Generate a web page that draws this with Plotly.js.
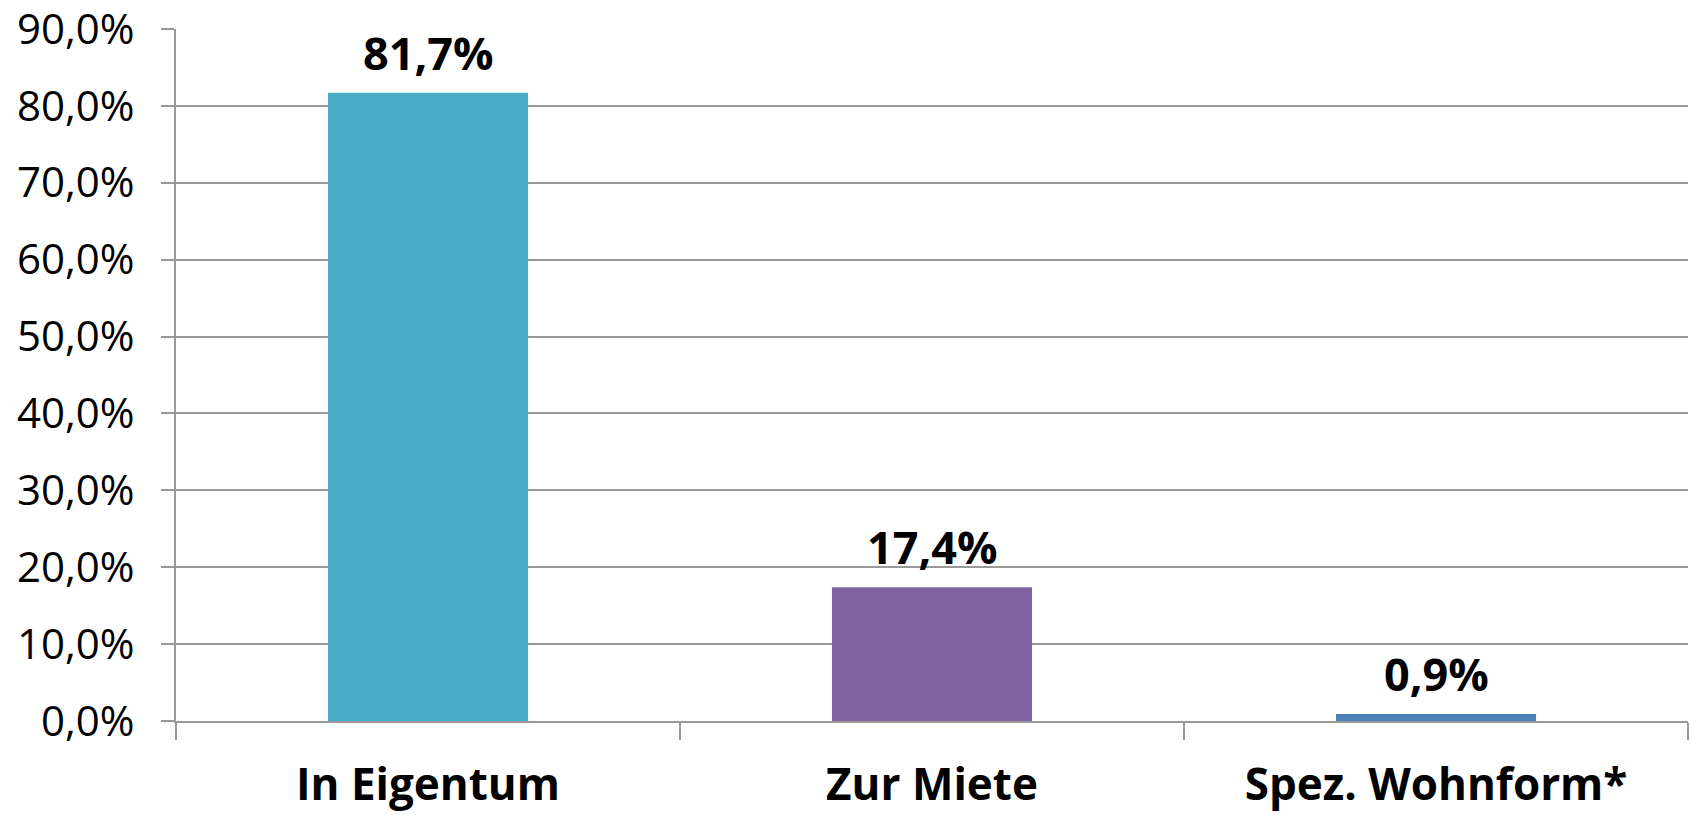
<!DOCTYPE html>
<html>
<head>
<meta charset="utf-8">
<script src="https://cdn.plot.ly/plotly-3.0.1.min.js"></script>
<style>html,body{margin:0;padding:0;background:#fff;}#chart{width:1690px;height:815px;}</style>
</head>
<body>
<div id="chart"></div>
<script>
const categories = ["In Eigentum", "Zur Miete", "Spez. Wohnform*"];
const values = [81.7, 17.4, 0.9];
const labels = ["81,7%", "17,4%", "0,9%"];
const colors = ["#4BACC6", "#8064A2", "#4F81BD"];
const yTickVals = [0, 10, 20, 30, 40, 50, 60, 70, 80, 90];
const yTickText = ["0,0%", "10,0%", "20,0%", "30,0%", "40,0%", "50,0%", "60,0%", "70,0%", "80,0%", "90,0%"];

const trace = {
  type: "bar",
  x: categories,
  y: values,
  marker: {color: colors},
  width: 0.397,
  hoverinfo: "none"
};

const annotations = categories.map((c, i) => ({
  x: c,
  y: values[i],
  xref: "x",
  yref: "y",
  text: labels[i],
  showarrow: false,
  yanchor: "bottom",
  yshift: 8,
  font: {family: "Open Sans", size: 45, color: "#000", weight: "bold"}
}));

const layout = {
  width: 1690,
  height: 815,
  margin: {l: 176, r: 2, t: 29, b: 94},
  paper_bgcolor: "#fff",
  plot_bgcolor: "#fff",
  showlegend: false,
  font: {family: "Open Sans", color: "#000"},
  annotations: annotations,
  xaxis: {
    type: "category",
    tickson: "boundaries",
    ticks: "outside",
    ticklen: 17,
    tickwidth: 2,
    tickcolor: "#999",
    showline: true,
    linecolor: "#999",
    linewidth: 2,
    showgrid: false,
    zeroline: false,
    tickfont: {family: "Open Sans", size: 44, color: "#000", weight: "bold"},
    ticklabelstandoff: 24,
    ticklabeloverflow: "allow"
  },
  yaxis: {
    range: [0, 90],
    tickvals: yTickVals,
    ticktext: yTickText,
    ticks: "outside",
    ticklen: 13,
    tickwidth: 2,
    tickcolor: "#999",
    showline: true,
    linecolor: "#999",
    linewidth: 2,
    showgrid: true,
    gridcolor: "#999",
    gridwidth: 2,
    zeroline: false,
    tickfont: {family: "Open Sans", size: 42, color: "#000"},
    ticklabelstandoff: 18,
    ticklabeloverflow: "allow"
  }
};

Plotly.newPlot("chart", [trace], layout, {displayModeBar: false, staticPlot: true});
</script>
</body>
</html>
